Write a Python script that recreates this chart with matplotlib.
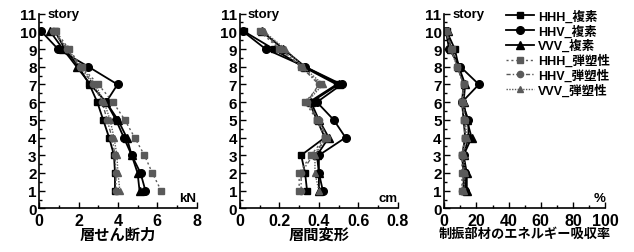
import matplotlib
matplotlib.use("Agg")
import matplotlib.pyplot as plt
from matplotlib.ticker import MultipleLocator
import matplotlib.transforms as mtrans

plt.rcParams["font.family"] = ["Liberation Sans", "Noto Sans CJK JP"]
plt.rcParams["font.weight"] = "bold"

stories = [1, 2, 3, 4, 5, 6, 7, 8, 9, 10]
labels = ["HHH_複素", "HHV_複素", "VVV_複素", "HHH_弾塑性", "HHV_弾塑性", "VVV_弾塑性"]

# story shear force (kN), stories 1..10
shear_hhh_c = [3.85, 3.85, 3.8, 3.55, 3.25, 2.95, 2.55, 2.0, 1.3, 0.8]
shear_hhv_c = [5.4, 5.15, 4.7, 4.3, 3.9, 3.4, 3.98, 2.5, 0.95, 0.1]
shear_vvv_c = [5.1, 5.0, 4.7, 4.45, 4.0, 3.4, 2.6, 1.9, 1.2, 0.55]
shear_hhh_e = [6.2, 5.75, 5.35, 4.85, 4.35, 3.75, 3.0, 2.15, 1.5, 0.85]
shear_hhv_e = [3.9, 3.9, 3.85, 3.7, 3.45, 3.2, 2.75, 2.05, 1.4, 0.7]
shear_vvv_e = [4.1, 4.0, 3.95, 3.8, 3.6, 3.3, 2.85, 2.1, 1.45, 0.75]

# inter-story drift (cm)
drift_hhh_c = [0.34, 0.33, 0.31, 0.43, 0.39, 0.35, 0.49, 0.32, 0.17, 0.02]
drift_hhv_c = [0.42, 0.40, 0.40, 0.535, 0.475, 0.39, 0.515, 0.33, 0.13, 0.015]
drift_vvv_c = [0.40, 0.40, 0.39, 0.45, 0.40, 0.36, 0.50, 0.33, 0.22, 0.11]
drift_hhh_e = [0.30, 0.30, 0.36, 0.43, 0.39, 0.33, 0.41, 0.31, 0.20, 0.10]
drift_hhv_e = [0.31, 0.31, 0.37, 0.44, 0.40, 0.34, 0.40, 0.31, 0.21, 0.11]
drift_vvv_e = [0.40, 0.38, 0.38, 0.44, 0.40, 0.34, 0.42, 0.32, 0.23, 0.12]

# damper energy absorption ratio (%)
energy_hhh_c = [12, 12, 11, 13, 12, 11, 12, 9, 6.5, 1.5]
energy_hhv_c = [13, 13, 12, 15, 15, 11, 21.5, 10, 3, 1]
energy_vvv_c = [14, 14, 12, 17, 14, 12, 13, 9, 4, 2]
energy_hhh_e = [11, 11, 11, 13, 12, 11, 12, 8, 5, 1]
energy_hhv_e = [11, 12, 11, 13, 13, 11, 12, 8, 4, 1]
energy_vvv_e = [12, 13, 12, 14, 13, 12, 12, 8, 4, 2]

panels = [
    ([shear_hhh_c, shear_hhv_c, shear_vvv_c, shear_hhh_e, shear_hhv_e, shear_vvv_e],
     8, 1, "層せん断力", "kN", [0, 2, 4, 6, 8], ["0", "2", "4", "6", "8"]),
    ([drift_hhh_c, drift_hhv_c, drift_vvv_c, drift_hhh_e, drift_hhv_e, drift_vvv_e],
     0.8, 0.1, "層間変形", "cm", [0, 0.2, 0.4, 0.6, 0.8], ["0", "0.2", "0.4", "0.6", "0.8"]),
    ([energy_hhh_c, energy_hhv_c, energy_vvv_c, energy_hhh_e, energy_hhv_e, energy_vvv_e],
     100, 10, "制振部材のエネルギー吸収率", "%", [0, 20, 40, 60, 80, 100],
     ["0", "20", "40", "60", "80", "100"]),
]

styles = [
    dict(color="black", ls="-", lw=1.3, marker="s", ms=4),
    dict(color="black", ls="-", lw=1.3, marker="o", ms=5.5),
    dict(color="black", ls="-", lw=1.3, marker="^", ms=5.5),
    dict(color="#5a5a5a", ls=(0, (1.5, 2)), lw=1.0, marker="s", ms=4),
    dict(color="#5a5a5a", ls=(0, (3, 1.5, 1, 1.5)), lw=1.0, marker="o", ms=4.5),
    dict(color="#5a5a5a", ls=(0, (1, 1)), lw=1.0, marker="^", ms=4.5),
]

lefts = [0.062, 0.3785, 0.7008]
widths = [0.248, 0.249, 0.2535]

fig = plt.figure(figsize=(6.34, 2.53), dpi=100)

for i, (series, xmax, minor, xlabel, unit, xt, xtl) in enumerate(panels):
    ax = fig.add_axes([lefts[i], 0.1723, widths[i], 0.770])
    handles = []
    for vals, st, lab in zip(series, styles, labels):
        (h,) = ax.plot(vals, stories, label=lab, **st)
        handles.append(h)
    ax.set_xlim(0, xmax)
    ax.set_ylim(0, 11)
    ax.set_xticks(xt)
    ax.set_xticklabels(xtl, fontsize=11.5, fontweight="bold")
    ax.xaxis.set_minor_locator(MultipleLocator(minor))
    ax.set_yticks(range(0, 12))
    ax.set_yticklabels([str(v) for v in range(0, 12)], fontsize=11, fontweight="bold")
    ax.yaxis.set_minor_locator(MultipleLocator(0.5))
    ax.tick_params(which="both", direction="in", width=1.0)
    ax.tick_params(which="major", length=4, pad=3)
    ax.tick_params(which="minor", length=2.5)
    ax.tick_params(axis="y", pad=2)
    for side in ("top", "right"):
        ax.spines[side].set_visible(False)
    for side in ("left", "bottom"):
        ax.spines[side].set_linewidth(1.2)
    fs = 9.5 if i == 2 else 11
    ax.set_xlabel(xlabel, fontsize=fs, fontweight="bold", labelpad=0)
    trans = mtrans.blended_transform_factory(ax.transAxes, ax.transData)
    ax.text(0.05, 11, "story", transform=trans, fontsize=9.5, fontweight="bold",
            ha="left", va="center")
    ax.text(1.0, 0.6, unit, transform=trans, fontsize=9.5, fontweight="bold",
            ha="right", va="center")
    if i == 2:
        ax.legend(handles=handles, loc="upper left", bbox_to_anchor=(0.34, 1.06),
                  frameon=False, fontsize=9, handlelength=2.2, handletextpad=0.3,
                  labelspacing=0.12, borderpad=0.1)

fig.savefig("out.png", dpi=100)
